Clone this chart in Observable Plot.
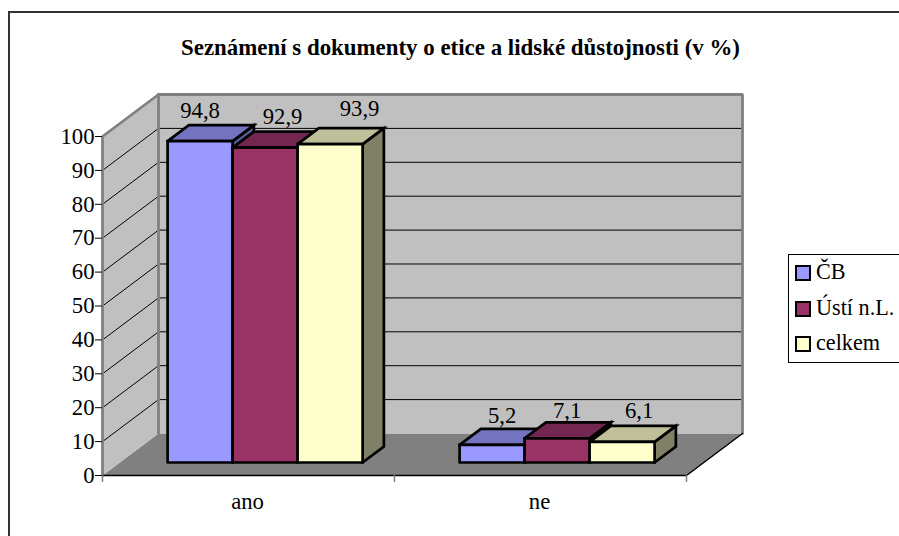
<!DOCTYPE html>
<html>
<head>
<meta charset="utf-8">
<script src="https://cdn.jsdelivr.net/npm/d3@7"></script>
<script src="https://cdn.jsdelivr.net/npm/@observablehq/plot@0.6"></script>
<style>
html,body{margin:0;padding:0;background:#fff;overflow:hidden;}
body{width:899px;height:536px;position:relative;font-family:"Liberation Serif",serif;color:#000;}
#chart{position:absolute;left:0;top:0;}
#frame{position:absolute;left:8px;top:11px;right:-5px;bottom:-5px;border-left:2px solid #333;border-top:2px solid #333;}
#title{position:absolute;left:181px;top:35px;font-weight:bold;font-size:22.9px;line-height:26px;white-space:nowrap;}
#legend{position:absolute;left:788px;top:254px;width:120px;height:107px;border:1px solid #000;background:#fff;}
.item{position:absolute;left:6px;font-size:22.2px;line-height:24px;height:24px;white-space:nowrap;}
.sw{position:absolute;left:0;top:5px;width:12px;height:12px;border:2px solid #000;}
.lb{position:absolute;left:21px;top:0;}
</style>
</head>
<body>
<div id="chart"></div>
<div id="frame"></div>
<div id="title"></div>
<div id="legend"></div>
<script>
const chartTitle = "Seznámení s dokumenty o etice a lidské důstojnosti (v %)";
const categories = ["ano", "ne"];
const seriesNames = ["ČB", "Ústí n.L.", "celkem"];
const valuesCB = [94.8, 5.2];
const valuesUsti = [92.9, 7.1];
const valuesCelkem = [93.9, 6.1];
const yTicks = [0, 10, 20, 30, 40, 50, 60, 70, 80, 90, 100];

const series = [valuesCB, valuesUsti, valuesCelkem];
const frontFill = ["#9999FF", "#993366", "#FFFFCC"];
const topFill = ["#7373BF", "#732650", "#BFBF99"];
const sideFill = ["#5C5C99", "#5C1F3D", "#808066"];

// labels were placed by hand in the source chart: [dx, dy] from the bar's top centre
const labelNudge = [
  [[0, -30], [10, -29]],
  [[17.5, -31], [10, -28]],
  [[29.5, -35], [17, -31]]
];

// oblique projection in data units: z runs 0 (front) to 1 (back wall)
const depthX = 56 / 292, depthY = 12.39;
const P = (x, y, z) => [x + z * depthX, y + z * depthY];
const barStart = 0.1635, barW = 0.2226, zFront = 0.31, zBack = 0.69;

const poly = (pts, o) => Plot.line([...pts, pts[0]], {x: d => d[0], y: d => d[1], strokeLinejoin: "miter", strokeMiterlimit: 4, ...o});
const serif = "Liberation Serif";
const textStyle = {fontFamily: serif, fontSize: 22.7, fill: "#000"};

const marks = [
  // floor
  poly([P(0,0,0), P(2,0,0), P(2,0,1), P(0,0,1)], {fill: "#808080", stroke: "none"}),
  // walls
  poly([P(0,0,0), P(0,100,0), P(0,100,1), P(0,0,1)], {fill: "#C0C0C0", stroke: "none"}),
  poly([P(0,0,1), P(2,0,1), P(2,100,1), P(0,100,1)], {fill: "#C0C0C0", stroke: "none"}),
  // grid
  Plot.link(yTicks.slice(1, -1), {x1: () => P(0,0,1)[0], x2: () => P(2,0,1)[0], y1: t => P(0,t,1)[1], y2: t => P(0,t,1)[1], stroke: "#000", strokeWidth: 1}),
  Plot.link(yTicks.slice(1, -1), {x1: () => P(0,0,0)[0], x2: () => P(0,0,1)[0], y1: t => P(0,t,0)[1], y2: t => P(0,t,1)[1], stroke: "#000", strokeWidth: 1}),
  // wall edges
  Plot.line([P(0,0,0), P(0,100,0), P(0,100,1), P(2,100,1), P(2,0,1)], {x: d => d[0], y: d => d[1], stroke: "#808080", strokeWidth: 2.8, strokeLinejoin: "miter"}),
  Plot.line([P(0,0,1), P(0,100,1)], {x: d => d[0], y: d => d[1], stroke: "#808080", strokeWidth: 2.8}),
  // floor front & right edges
  Plot.line([P(0,0,0), P(2,0,0), P(2,0,1)], {x: d => d[0], y: d => d[1], stroke: "#000", strokeWidth: 1.5, strokeLinejoin: "miter"}),
  Plot.axisY({ticks: yTicks, tickSize: 7, tickPadding: 1, label: null, stroke: "#000", fontSize: 22.7, fontFamily: serif, color: "#000", strokeWidth: 1, tickFormat: d => d}),
  Plot.axisX({ticks: [0, 1, 2], tickSize: 7, tickFormat: () => "", label: null, stroke: "#808080", strokeWidth: 1.5}),
  Plot.text(categories, {x: (d, i) => i + 0.5, y: () => 0, text: d => d, dy: 26, dx: -1, ...textStyle})
];

categories.forEach((c, ci) => {
  series.forEach((vals, si) => {
    const v = vals[ci];
    const x0 = ci + barStart + si * barW, x1 = x0 + barW;
    const st = {stroke: "#000", strokeWidth: 2.7};
    marks.push(poly([P(x1,0,zFront), P(x1,v,zFront), P(x1,v,zBack), P(x1,0,zBack)], {fill: sideFill[si], ...st}));
    marks.push(poly([P(x0,v,zFront), P(x1,v,zFront), P(x1,v,zBack), P(x0,v,zBack)], {fill: topFill[si], ...st}));
    marks.push(poly([P(x0,0,zFront), P(x1,0,zFront), P(x1,v,zFront), P(x0,v,zFront)], {fill: frontFill[si], ...st}));
  });
});
categories.forEach((c, ci) => {
  series.forEach((vals, si) => {
    const v = vals[ci];
    const xc = ci + barStart + (si + 0.5) * barW;
    const [dx, dy] = labelNudge[si][ci];
    const [px, py] = P(xc, v, zFront);
    marks.push(Plot.text([String(v).replace(".", ",")], {x: () => px, y: () => py, text: d => d, dx, dy, ...textStyle}));
  });
});

const plot = Plot.plot({
  width: 899, height: 536,
  marginLeft: 102, marginRight: 213, marginTop: 136, marginBottom: 61,
  x: {domain: [0, 2], axis: null},
  y: {domain: [0, 100], axis: null},
  style: {background: "transparent", overflow: "visible"},
  marks
});
document.getElementById("chart").appendChild(plot);

document.getElementById("title").textContent = chartTitle;
const legend = document.getElementById("legend");
const itemTops = [5, 41, 76];
seriesNames.forEach((n, i) => {
  const it = document.createElement("div");
  it.className = "item";
  it.style.top = itemTops[i] + "px";
  const sw = document.createElement("div");
  sw.className = "sw";
  sw.style.background = frontFill[i];
  const lb = document.createElement("div");
  lb.className = "lb";
  lb.textContent = n;
  it.append(sw, lb);
  legend.append(it);
});
</script>
</body>
</html>
